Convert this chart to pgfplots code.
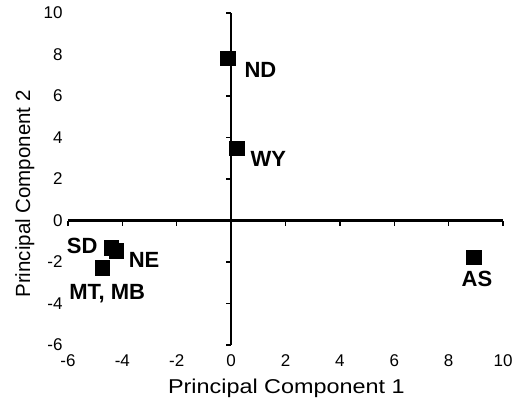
\documentclass[border=0pt]{standalone}
\usepackage{fontspec}
\setmainfont{Liberation Sans}
\usepackage{pgfplots}
\pgfplotsset{compat=1.18}
\begin{document}
\begin{tikzpicture}
\useasboundingbox (-68pt,-55pt) rectangle (449pt,345pt);
% labels axis
\begin{axis}[
  scale only axis, width=435pt, height=332pt,
  xmin=-6, xmax=10, ymin=-6, ymax=10,
  xtick={-6,-4,...,10}, ytick={-6,-4,...,10},
  axis line style={draw=none}, major tick length=0pt,
  /pgf/number format/assume math mode=true,
  ticklabel style={font=\fontsize{17}{17}\selectfont},
  xticklabel style={yshift=-6pt},
  yticklabel style={xshift=-2pt},
  xlabel={Principal Component 1},
  ylabel={Principal Component 2},
  xlabel style={font=\fontsize{20}{20}\selectfont, xscale=1.17, at={(axis description cs:0.502,-0.1446)}, anchor=base},
  ylabel style={font=\fontsize{20.5}{20.5}\selectfont, at={(axis description cs:-0.099,0.455)}, anchor=center},
]
\addplot[draw=none] coordinates {(0,0)};
\end{axis}
% drawing axis
\begin{axis}[
  scale only axis, width=435pt, height=332pt,
  xmin=-6, xmax=10, ymin=-6, ymax=10,
  axis lines=middle, axis line style={-, line width=2.2pt},
  xtick={-6,-4,...,10}, ytick={-6,-4,...,10},
  xticklabels={}, yticklabels={},
  tick align=outside, major tick length=5pt,
  tick style={line width=1.4pt, black},
  clip=false,
  nodes={font=\fontsize{22}{22}\selectfont\bfseries, text depth=0pt},
]
\addplot[only marks, mark=square*, mark size=7.3pt, mark options={fill=black, draw=black, line width=0.2pt}] coordinates {
  (-0.12,7.82) (0.195,3.48) (-4.41,-1.30) (-4.23,-1.45) (-4.74,-2.28) (8.91,-1.77)
};
\node at (axis cs:1.08,7.24) {ND};
\node at (axis cs:1.37,2.97) {WY};
\node at (axis cs:-5.48,-1.21) {SD};
\node at (axis cs:-3.20,-1.90) {NE};
\node at (axis cs:-4.56,-3.43) {MT, MB};
\node at (axis cs:9.04,-2.80) {AS};
\end{axis}
\end{tikzpicture}
\end{document}
